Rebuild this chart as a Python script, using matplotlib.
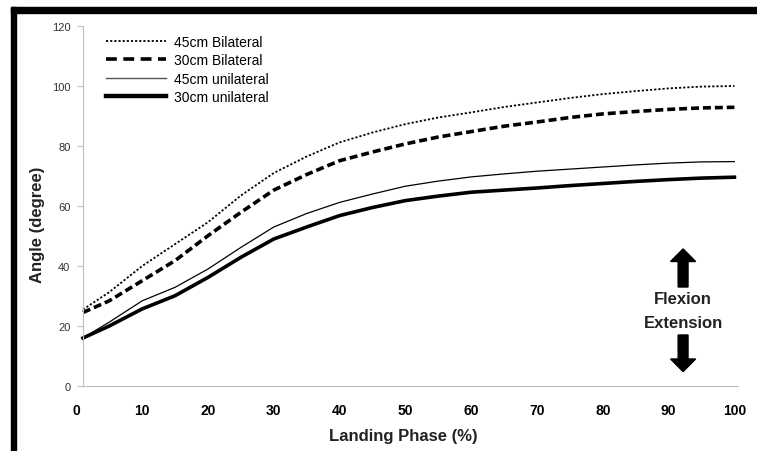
import matplotlib.pyplot as plt
from matplotlib.lines import Line2D
from matplotlib.patches import Rectangle

plt.rcParams['font.family'] = ['Liberation Sans', 'DejaVu Sans']

# landing phase (%) and knee angle (degree)
phase = [1, 5, 10, 15, 20, 25, 30, 35, 40, 45, 50, 55, 60, 65, 70, 75, 80, 85, 90, 95, 100]
bil45 = [25.5, 31.3, 40.0, 47.3, 54.6, 63.5, 71.0, 76.5, 81.2, 84.5, 87.3, 89.5, 91.2, 93.0,
         94.5, 96.0, 97.3, 98.3, 99.2, 99.8, 100.0]
bil30 = [24.5, 28.4, 35.1, 41.8, 50.1, 57.9, 65.3, 70.5, 75.1, 78.0, 80.7, 83.0, 84.8, 86.6,
         88.0, 89.5, 90.7, 91.5, 92.2, 92.7, 92.9]
uni45 = [16.0, 21.3, 28.4, 32.9, 39.0, 46.2, 53.0, 57.5, 61.2, 64.0, 66.6, 68.3, 69.7, 70.7,
         71.6, 72.3, 73.0, 73.7, 74.3, 74.7, 74.8]
uni30 = [16.0, 20.0, 25.7, 30.1, 36.2, 42.9, 49.0, 53.0, 56.8, 59.5, 61.8, 63.3, 64.6, 65.3,
         66.0, 66.8, 67.5, 68.2, 68.8, 69.3, 69.6]
labels = ['45cm Bilateral', '30cm Bilateral', '45cm unilateral', '30cm unilateral']
xticks = list(range(0, 101, 10))
yticks = list(range(0, 121, 20))

fig = plt.figure(figsize=(7.57, 4.52), dpi=100)
ax = fig.add_axes([76.4 / 757, 65 / 452, 661.3 / 757, 360 / 452])

ax.plot(phase, bil45, color='black', lw=1.3, ls=(0, (1.2, 1.1)))
ax.plot(phase, bil30, color='black', lw=2.6, ls=(0, (2.2, 1.1)))
ax.plot(phase, uni45, color='black', lw=0.9)
ax.plot(phase, uni30, color='black', lw=2.6)

handles = [Line2D([], [], color='black', lw=1.3, ls=(0, (1.2, 1.1))),
           Line2D([], [], color='black', lw=2.6, ls=(0, (3.0, 1.8))),
           Line2D([], [], color='#555555', lw=1.0),
           Line2D([], [], color='black', lw=3.2)]
ax.legend(handles, labels, loc='upper left', bbox_to_anchor=(106 / 757, 1 - 36 / 452),
          bbox_transform=fig.transFigure, frameon=False, fontsize=10,
          handlelength=4.3, handletextpad=0.6, labelspacing=0.31, borderpad=0,
          borderaxespad=0)

ax.set_xlim(0, 100.5)
ax.set_ylim(0, 120)
ax.set_xticks(xticks)
ax.set_yticks(yticks)
ax.tick_params(axis='x', length=0, pad=12, labelsize=10)
ax.tick_params(axis='y', length=4, width=0.8, color='#bfbfbf', pad=5, labelsize=8,
               labelcolor='#333333')
for t in ax.get_xticklabels() + ax.get_yticklabels():
    t.set_fontweight('bold')

for s in ['top', 'right']:
    ax.spines[s].set_visible(False)
ax.spines['left'].set_position(('data', 1))
ax.spines['left'].set_color('#bfbfbf')
ax.spines['bottom'].set_color('#bfbfbf')
ax.spines['bottom'].set_bounds(1, 100.5)

ax.set_xlabel('Landing Phase (%)', fontsize=12, fontweight='bold', color='#222222')
ax.set_ylabel('Angle (degree)', fontsize=12, fontweight='bold', color='#222222')
ax.xaxis.set_label_coords(0.495, -0.117)
ax.yaxis.set_label_coords(-0.048, 0.45)

# flexion / extension indicator
ax.arrow(92.2, 33, 0, 8.5, width=1.5, head_width=3.8, head_length=4.2,
         length_includes_head=False, color='black')
ax.arrow(92.2, 17, 0, -8.0, width=1.5, head_width=3.8, head_length=4.2,
         length_includes_head=False, color='black')
ax.text(92.2, 29, 'Flexion', ha='center', va='center', fontsize=12, fontweight='bold',
        color='#222222')
ax.text(92.2, 21.3, 'Extension', ha='center', va='center', fontsize=12, fontweight='bold',
        color='#222222')

# black frame on the left and top
fig.patches.append(Rectangle((11 / 757, 0), 5 / 757, 1 - 8 / 452, transform=fig.transFigure,
                             color='black', zorder=5))
fig.patches.append(Rectangle((11 / 757, 1 - 14 / 452), 1, 6 / 452, transform=fig.transFigure,
                             color='black', zorder=5))

fig.savefig('out.png', dpi=100)
